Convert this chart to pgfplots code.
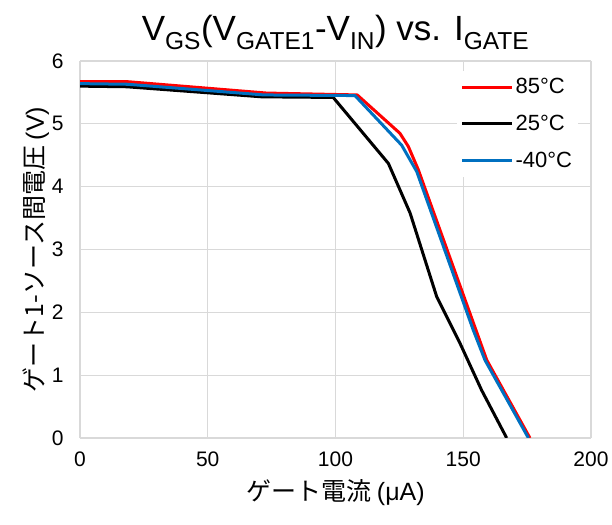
\documentclass[border=0pt]{standalone}
\usepackage{pgfplots}
\pgfplotsset{compat=1.18}
\usepackage{fontspec}
\setmainfont{Liberation Sans}
\newfontfamily\jp{Noto Sans CJK JP}
\definecolor{cred}{RGB}{255,0,0}
\definecolor{cblue}{RGB}{0,112,192}
\definecolor{cgrid}{RGB}{217,217,217}
\begin{document}
\begin{tikzpicture}
\begin{axis}[
  at={(0,0)}, anchor=south west,
  scale only axis, width=511bp, height=377bp,
  xmin=0, xmax=200, ymin=0, ymax=6,
  xtick={0,50,...,200}, ytick={0,1,...,6},
  grid=major, major grid style={cgrid, line width=1.2bp},
  axis line style={draw=none},
  axis x line*=bottom, axis y line*=left,
  x axis line style={cgrid, line width=1.2bp},
  tick style={draw=none},
  /pgf/number format/assume math mode=true,
  ticklabel style={font=\fontsize{21bp}{23bp}\selectfont},
  xticklabel style={yshift=-10bp},
  yticklabel style={xshift=-13bp},
  title={V\textsubscript{GS}(V\textsubscript{GATE1}-V\textsubscript{IN}) vs. I\textsubscript{GATE}},
  title style={font=\fontsize{35bp}{37bp}\selectfont, yshift=2bp},
  xlabel={\jp ゲート電流 \rmfamily(μA)},
  ylabel={\jp ゲート1-ソース間電圧 \rmfamily(V)},
  label style={font=\fontsize{25bp}{28bp}\selectfont},
  xlabel style={yshift=-6bp},
  ylabel style={yshift=-4bp},
  legend style={at={(0.975,0.975)}, anchor=north east, draw=none, fill=white,
    font=\fontsize{22bp}{24bp}\selectfont, row sep=16bp,
    inner xsep=4bp, inner ysep=6bp},
  legend cell align=left,
  legend image code/.code={\draw[#1, line width=3bp] (0bp,0bp) -- (50bp,0bp);},
  every axis plot/.append style={line width=3bp, line join=round},
]
\addplot[cred, mark=none] coordinates {
(0,5.67) (18.9,5.67) (73,5.49) (108.5,5.46) (125.2,4.85) (128.5,4.64) (132.4,4.27) (159.2,1.24) (176.1,0)
};
\addlegendentry{85°C}
\addplot[black, mark=none] coordinates {
(0,5.60) (18.3,5.59) (71.1,5.43) (99.1,5.42) (120.7,4.37) (129.2,3.58) (139.6,2.25) (148.7,1.51) (157.2,0.76) (167,0)
};
\addlegendentry{25°C}
\addplot[cblue, mark=none] coordinates {
(0,5.64) (18.5,5.63) (72,5.46) (107.6,5.45) (125.9,4.66) (131.8,4.24) (153.9,1.72) (158.5,1.24) (175.5,0)
};
\addlegendentry{-40°C}
\end{axis}
\path (-80bp,-87bp) rectangle (532bp,438bp);
\end{tikzpicture}
\end{document}
